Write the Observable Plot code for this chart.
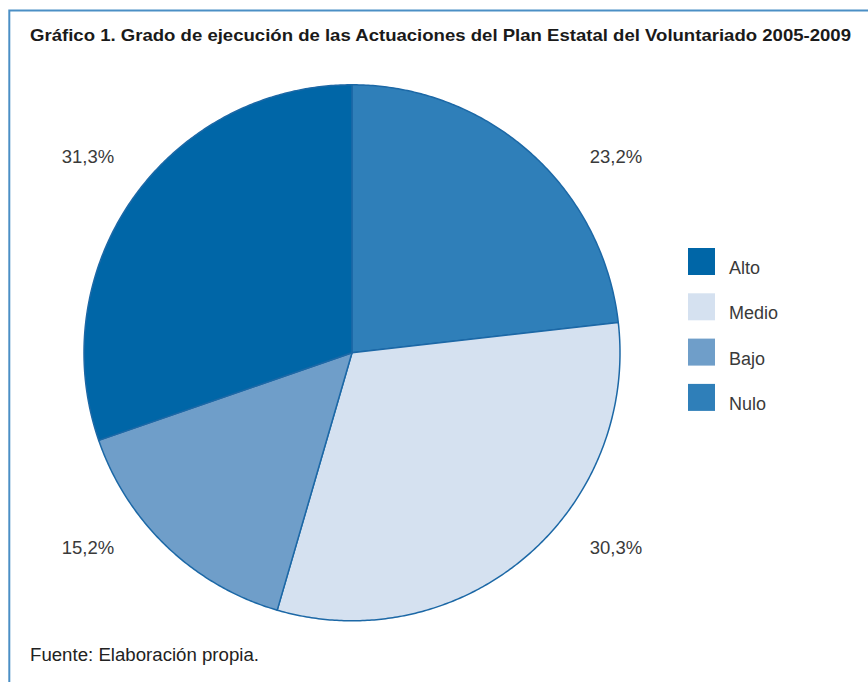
<!DOCTYPE html>
<html><head><meta charset="utf-8">
<script src="https://cdn.jsdelivr.net/npm/d3@7"></script>
<script src="https://cdn.jsdelivr.net/npm/@observablehq/plot@0.6"></script>
<style>body{margin:0;background:#fff} #chart{position:relative;width:868px;height:682px;overflow:hidden}</style>
</head><body><div id="chart"></div>
<script>
// Legend categories and colours
const categories = ["Alto", "Medio", "Bajo", "Nulo"];
const colors = ["#0066a7", "#d5e1f0", "#6f9ec9", "#2f7fb9"];
// Slices clockwise from 12 o'clock (shares as drawn in the picture)
const sliceOrder = ["Nulo", "Medio", "Bajo", "Alto"];
const sliceValues = [23.2, 31.3, 15.2, 30.3];
// Percentage labels as printed next to each slice
const sliceLabels = ["23,2%", "30,3%", "15,2%", "31,3%"];
const titleText = "Gráfico 1. Grado de ejecución de las Actuaciones del Plan Estatal del Voluntariado 2005-2009";
const sourceText = "Fuente: Elaboración propia.";

const arcs = d3.pie().sort(null).value(d => d)(sliceValues);
const pts = [];
arcs.forEach((a, i) => {
  const key = sliceOrder[i];
  pts.push({key, x: 0, y: 0});
  const n = Math.max(2, Math.ceil((a.endAngle - a.startAngle) / (Math.PI / 360)));
  for (let k = 0; k <= n; k++) {
    const t = a.startAngle + (a.endAngle - a.startAngle) * k / n;
    pts.push({key, x: Math.sin(t), y: Math.cos(t)});
  }
  pts.push({key, x: 0, y: 0});
});
const labels = arcs.map((a, i) => {
  const m = (a.startAngle + a.endAngle) / 2;
  return {text: sliceLabels[i], x: Math.sign(Math.sin(m)) * 0.985, y: Math.sign(Math.cos(m)) * 0.73};
});

const W = 868, H = 682, cx = 351.5, cy = 352.3, R = 268;
const plot = Plot.plot({
  width: W, height: H,
  marginLeft: cx - R, marginRight: W - (cx + R),
  marginTop: cy - R, marginBottom: H - (cy + R),
  x: {domain: [-1, 1], axis: null},
  y: {domain: [-1, 1], axis: null},
  color: {domain: categories, range: colors},
  style: {fontFamily: "'Liberation Sans', Arial, sans-serif", background: "#fff", overflow: "visible"},
  marks: [
    Plot.line(pts, {x: "x", y: "y", z: "key", fill: "key", stroke: "#1c68a6", strokeWidth: 1.5, strokeLinejoin: "round", strokeLinecap: "round"}),
    Plot.text(labels, {x: "x", y: "y", text: "text", fontSize: 18.5, fill: "#3a3a3a"})
  ]
});
document.getElementById("chart").appendChild(plot);

const svg = d3.select(plot);
const color = plot.scale("color");
const g = svg.append("g").attr("text-anchor", "start");
// frame
g.append("path").attr("d", "M9.3,682V10.4H868").attr("fill", "none").attr("stroke", "#4b8fc5").attr("stroke-width", 2);
// title
g.append("text").attr("x", 30).attr("y", 40.5).attr("font-size", 16.5).attr("font-weight", "bold")
  .attr("fill", "#1a1a1a").attr("textLength", 821).attr("lengthAdjust", "spacingAndGlyphs").text(titleText);
// source
g.append("text").attr("x", 30).attr("y", 661).attr("font-size", 17.5).attr("fill", "#222")
  .attr("textLength", 229).attr("lengthAdjust", "spacingAndGlyphs").text(sourceText);
// legend
categories.forEach((c, i) => {
  const y0 = 248 + 45.3 * i;
  g.append("rect").attr("x", 688).attr("y", y0).attr("width", 27).attr("height", 27).attr("fill", color.apply(c));
  g.append("text").attr("x", 729).attr("y", y0 + 26).attr("font-size", 18).attr("fill", "#3a3a3a").text(c);
});
</script>
</body></html>
